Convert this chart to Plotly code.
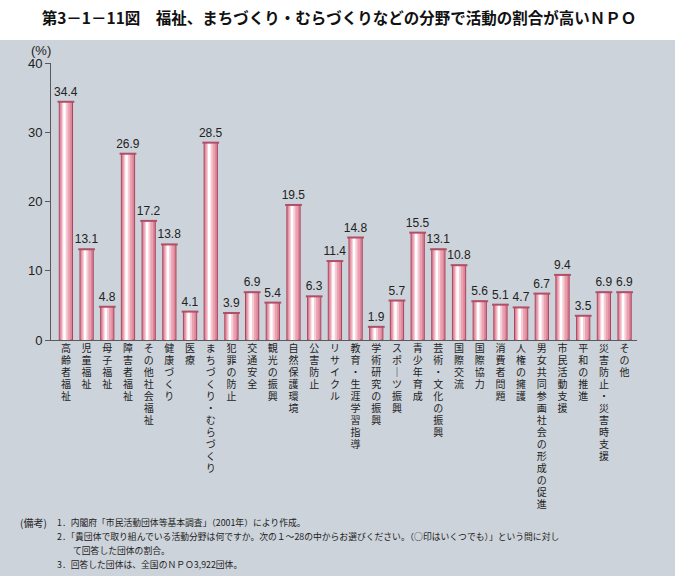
import plotly.graph_objects as go

categories = [
    "高齢者福祉", "児童福祉", "母子福祉", "障害者福祉", "その他社会福祉", "健康づくり", "医療",
    "まちづくり・むらづくり", "犯罪の防止", "交通安全", "観光の振興", "自然保護環境", "公害防止",
    "リサイクル", "教育・生涯学習指導", "学術研究の振興", "スポーツ振興", "青少年育成",
    "芸術・文化の振興", "国際交流", "国際協力", "消費者問題", "人権の擁護",
    "男女共同参画社会の形成の促進", "市民活動支援", "平和の推進", "災害防止・災害時支援", "その他",
]
values = [34.4, 13.1, 4.8, 26.9, 17.2, 13.8, 4.1, 28.5, 3.9, 6.9, 5.4, 19.5, 6.3,
          11.4, 14.8, 1.9, 5.7, 15.5, 13.1, 10.8, 5.6, 5.1, 4.7, 6.7, 9.4, 3.5, 6.9, 6.9]
y_ticks = [0, 10, 20, 30, 40]

title_text = "第3－1－11図　福祉、まちづくり・むらづくりなどの分野で活動の割合が高いＮＰＯ"
notes_head = "(備考)"
notes = [
    "1．内閣府「市民活動団体等基本調査」（2001年）により作成。",
    "2．「貴団体で取り組んでいる活動分野は何ですか。次の１～28の中からお選びください。（○印はいくつでも）」という問に対し",
    "て回答した団体の割合。",
    "3．回答した団体は、全国のＮＰＯ3,922団体。",
]

W, H = 678, 580
ML, MR, MT, MB = 51, 41, 63, 240
PW, PH = W - ML - MR, H - MT - MB


def px_x(px):
    return (px - ML) / PW


def px_y(py):
    return (H - MB - py) / PH


def vertical(label):
    chars = label.replace("ー", "｜")
    return "<br>".join(f"<span style='font-size:10px'>{c}</span>" for c in chars)


tick_text = [vertical(c) for c in categories]

fig = go.Figure()

layers = [
    dict(width=0.64, offset=-0.32, color="#dd8599", line=dict(color="#a8465f", width=1)),
    dict(width=0.46, offset=-0.25, color="#eaa2b1", line=dict(width=0)),
    dict(width=0.28, offset=-0.19, color="#f6cdd6", line=dict(width=0)),
    dict(width=0.12, offset=-0.13, color="#ffffff", line=dict(width=0)),
]
for i, L in enumerate(layers):
    fig.add_trace(go.Bar(
        x=categories, y=values,
        width=L["width"], offset=L["offset"],
        marker=dict(color=L["color"], line=L["line"]),
        text=[f"{v:.1f}" for v in values] if i == 0 else None,
        textposition="outside" if i == 0 else "none",
        textfont=dict(family="Liberation Sans, Arial", size=12, color="#222222"),
        constraintext="none",
        cliponaxis=False,
        hoverinfo="skip",
        showlegend=False,
    ))

# top caps of the cylinders
fig.add_trace(go.Scatter(
    x=categories, y=values, mode="markers",
    marker=dict(symbol="line-ew", size=12, line=dict(color="#b04f67", width=2)),
    hoverinfo="skip", showlegend=False, cliponaxis=False,
))

fig.update_layout(
    width=W, height=H,
    margin=dict(l=ML, r=MR, t=MT, b=MB, pad=0),
    paper_bgcolor="white",
    plot_bgcolor="rgba(0,0,0,0)",
    barmode="overlay",
    title=dict(text=title_text, x=0.5, xanchor="center", y=1 - 19 / H, yanchor="middle",
               font=dict(family="Noto Sans CJK JP", size=15.5, color="#111111", weight=700)),
    font=dict(family="Noto Sans CJK JP", color="#222222"),
    xaxis=dict(
        type="category", range=[-0.72, 27.6],
        tickmode="array", tickvals=categories, ticktext=tick_text,
        tickfont=dict(family="Noto Sans CJK JP", size=9.2, color="#222222"),
        showline=True, linecolor="#5a5a5a", linewidth=1,
        ticks="", showgrid=False, tickangle=0, fixedrange=True,
    ),
    yaxis=dict(
        range=[0, 40], tickvals=y_ticks,
        tickfont=dict(family="Liberation Sans, Arial", size=13, color="#222222"),
        showline=True, linecolor="#5a5a5a", linewidth=1,
        ticks="outside", ticklen=5, tickcolor="#5a5a5a",
        showgrid=False, zeroline=False, fixedrange=True,
    ),
    shapes=[dict(type="rect", xref="paper", yref="paper",
                 x0=px_x(0), x1=px_x(675), y0=px_y(576), y1=px_y(40),
                 fillcolor="#cdd3da", line=dict(width=0), layer="below")],
)

annotations = [
    dict(text="(%)", xref="paper", yref="paper", x=px_x(41), y=px_y(50),
         xanchor="center", yanchor="middle", showarrow=False,
         font=dict(family="Liberation Sans, Arial", size=13, color="#222222")),
    dict(text=notes_head, xref="paper", yref="paper", x=px_x(18), y=px_y(522),
         xanchor="left", yanchor="middle", showarrow=False,
         font=dict(family="Noto Sans CJK JP", size=10, color="#222222")),
]
note_pos = [(55, 522), (55, 536), (71, 550), (55, 564)]
for t, (nx, ny) in zip(notes, note_pos):
    annotations.append(dict(text=t, xref="paper", yref="paper", x=px_x(nx), y=px_y(ny),
                            xanchor="left", yanchor="middle", showarrow=False,
                            font=dict(family="Noto Sans CJK JP", size=8.8, color="#222222")))
fig.update_layout(annotations=annotations)

fig.write_html("out.html", config={"displayModeBar": False},
               post_script="document.body.style.margin='0';")
